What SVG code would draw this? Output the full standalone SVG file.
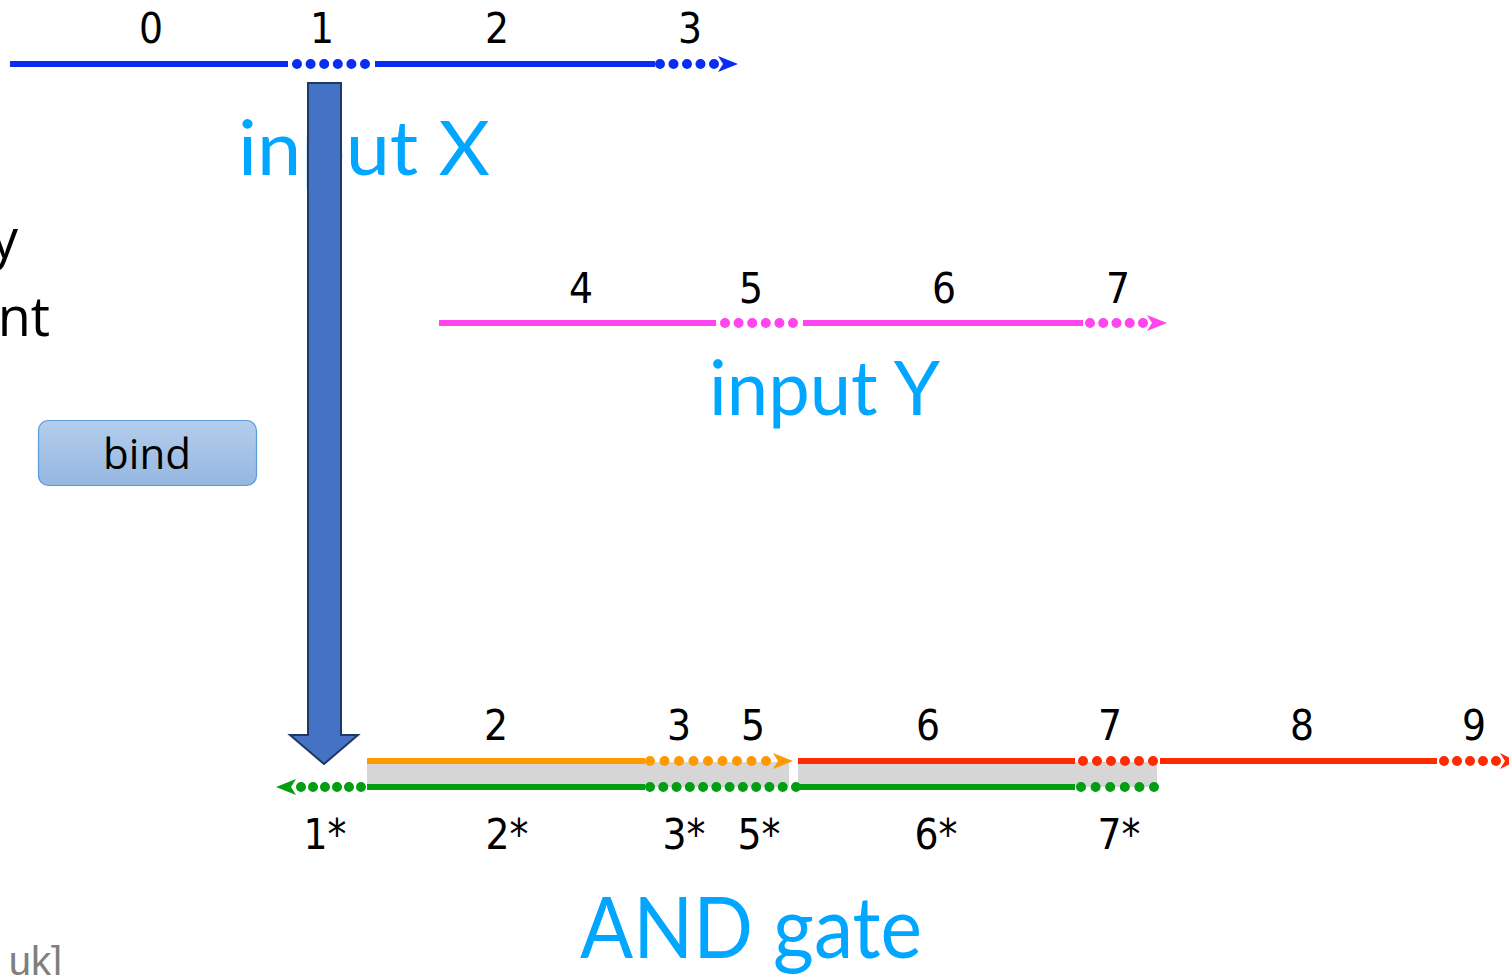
<svg xmlns="http://www.w3.org/2000/svg" width="1509" height="975" viewBox="0 0 1509 975">
<style>
.num{font-family:"DejaVu Sans Condensed","DejaVu Sans",sans-serif;font-size:42px;fill:#000;text-anchor:middle}
.title{font-family:Lato,"Open Sans",sans-serif;fill:#00a6ff}
.solid{fill:none;stroke-width:6;stroke-linecap:butt}
.dots{fill:none;stroke-width:10;stroke-linecap:round}
.blue{stroke:#0a2df2}
.mag{stroke:#ff44f0}
.org{stroke:#ff9900}
.grn{stroke:#009e10}
.red{stroke:#ff2a00}
.black{font-family:"Open Sans","Liberation Sans",sans-serif;fill:#000}
</style>
<defs>
<linearGradient id="bg" x1="0" y1="0" x2="0" y2="1">
<stop offset="0" stop-color="#b4cdec"/>
<stop offset="1" stop-color="#94b7e1"/>
</linearGradient>
</defs>
<rect width="1509" height="975" fill="#fff"/>

<g id="side-text">
<text class="black" x="18" y="258" font-size="54" text-anchor="end">y</text>
<text class="black" x="50" y="336" font-size="54" text-anchor="end">nt</text>
<text x="62" y="975" font-family="Liberation Sans Narrow,Liberation Sans,sans-serif" font-size="40" fill="#7f7f7f" text-anchor="end">uk]</text>
</g>

<g id="bind">
<rect x="38.5" y="420.5" width="218" height="65" rx="10" fill="url(#bg)" stroke="#5b9bd5" stroke-width="1.2"/>
<text class="black" x="147" y="469" font-size="42" text-anchor="middle">bind</text>
</g>

<g id="gray-bands">
<rect x="367" y="762" width="422" height="25" fill="#d6d6d6"/>
<rect x="798" y="762" width="359" height="25" fill="#d6d6d6"/>
</g>

<g id="input-x">
<text class="num" x="151" y="43">0</text>
<text class="num" x="322" y="43">1</text>
<text class="num" x="497" y="43">2</text>
<text class="num" x="690" y="43">3</text>
<text class="title" x="238" y="175" font-size="76" textLength="252" lengthAdjust="spacingAndGlyphs">input X</text>
</g>

<g id="input-y">
<text class="num" x="581" y="303">4</text>
<text class="num" x="751" y="303">5</text>
<text class="num" x="944" y="303">6</text>
<text class="num" x="1118" y="303">7</text>
<text class="title" x="709" y="415" font-size="76" textLength="231" lengthAdjust="spacingAndGlyphs">input Y</text>
</g>

<g id="and-gate">
<text class="num" x="496" y="740">2</text>
<text class="num" x="679" y="740">3</text>
<text class="num" x="753" y="740">5</text>
<text class="num" x="928" y="740">6</text>
<text class="num" x="1110" y="740">7</text>
<text class="num" x="1302" y="740">8</text>
<text class="num" x="1474" y="740">9</text>
<text class="num" x="325" y="849">1*</text>
<text class="num" x="507" y="849">2*</text>
<text class="num" x="684" y="849">3*</text>
<text class="num" x="759" y="849">5*</text>
<text class="num" x="936" y="849">6*</text>
<text class="num" x="1119" y="849">7*</text>
<text class="title" x="580" y="958" font-size="86" textLength="342" lengthAdjust="spacingAndGlyphs">AND gate</text>
</g>

<g id="connectors">
<!-- blue stream X -->
<path class="solid blue" d="M10 64H288M375 64H655"/>
<path class="dots blue" d="M297 64H366" stroke-dasharray="0 13.6"/>
<path class="dots blue" d="M660 64H715" stroke-dasharray="0 13.5"/>
<polygon points="738,64 718,56 723,64 718,72" fill="#0a2df2"/>
<!-- magenta stream Y -->
<path class="solid mag" d="M439 323H716M803 323H1083"/>
<path class="dots mag" d="M725 323H794" stroke-dasharray="0 13.6"/>
<path class="dots mag" d="M1090 323H1144" stroke-dasharray="0 13.25"/>
<polygon points="1167,323 1147,315 1152,323 1147,331" fill="#ff44f0"/>
<!-- orange -->
<path class="solid org" d="M367 761H645"/>
<path class="dots org" d="M650 761H767" stroke-dasharray="0 14.5"/>
<polygon points="793,761 773,753 778,761 773,769" fill="#ff9900"/>
<!-- red -->
<path class="solid red" d="M798 761H1075M1160 761H1437"/>
<path class="dots red" d="M1083 761H1154" stroke-dasharray="0 14"/>
<path class="dots red" d="M1444 761H1497" stroke-dasharray="0 13"/>
<polygon points="1516,761 1500,753 1505,761 1500,769" fill="#ff2a00"/>
<!-- green output -->
<polygon points="276,787 296,779 291,787 296,795" fill="#009e10"/>
<path class="dots grn" d="M301 787H362" stroke-dasharray="0 12"/>
<path class="solid grn" d="M367 787H645M797 787H1075"/>
<path class="dots grn" d="M650 787H797" stroke-dasharray="0 13.27"/>
<path class="dots grn" d="M1081 787H1155" stroke-dasharray="0 14.6"/>
</g>

<g id="bind-arrow">
<path d="M308 83H341V735H358L324 764L290 735H308Z" fill="#4472c4" stroke="#1f3864" stroke-width="2" stroke-linejoin="miter"/>
</g>
</svg>
